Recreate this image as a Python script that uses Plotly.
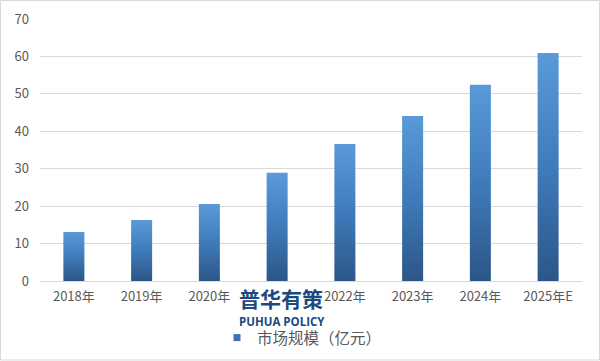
import plotly.graph_objects as go

categories = ["2018年", "2019年", "2020年", "2021年", "2022年", "2023年", "2024年", "2025年E"]
values = [13.1, 16.3, 20.6, 28.9, 36.6, 44.1, 52.4, 60.9]
series_name = "市场规模（亿元）"
y_ticks = [0, 10, 20, 30, 40, 50, 60, 70]

W, H = 600, 361
ML, MR, MT, MB = 40, 18, 19, 80
PW, PH = W - ML - MR, H - MT - MB
half = 0.155
font_family = "Noto Sans CJK SC, Noto Sans, sans-serif"
grad = [[0, "#2c5687"], [0.5, "#3f7bbb"], [1, "#5a9ad8"]]

fig = go.Figure()
for i, v in enumerate(values):
    fig.add_trace(go.Scatter(
        x=[i - half, i + half, i + half, i - half, i - half],
        y=[0, 0, v, v, 0],
        mode="none",
        fill="toself",
        fillgradient=dict(type="vertical", colorscale=grad),
        showlegend=False,
        hoverinfo="text",
        text=f"{categories[i]}: {v}",
        name=categories[i],
    ))

# legend entry
fig.add_trace(go.Scatter(
    x=[None], y=[None], mode="markers", name=series_name,
    marker=dict(symbol="square", size=7, color="#3d73ad"),
    showlegend=True,
))

def px_x(p):
    return (p - ML) / PW

def px_y(p):
    return (MT + PH - p) / PH

fig.add_shape(type="rect", xref="paper", yref="paper",
              x0=px_x(0.5), x1=px_x(599.5), y0=px_y(360), y1=px_y(0.5),
              line=dict(color="#d9d9d9", width=1), fillcolor="rgba(0,0,0,0)", layer="below")

fig.add_annotation(xref="paper", yref="paper", x=px_x(280.5), y=px_y(298),
                   xanchor="center", yanchor="middle",
                   text="<b>普华有策</b>", showarrow=False, bgcolor="white", borderpad=0,
                   font=dict(family=font_family, size=21, color="#1b4a80"))
fig.add_annotation(xref="paper", yref="paper", x=px_x(281.5), y=px_y(321),
                   xanchor="center", yanchor="middle",
                   text="<b>PUHUA POLICY</b>", showarrow=False,
                   font=dict(family="Open Sans, sans-serif", size=11.5, color="#1b4a80"))

fig.update_layout(
    width=W, height=H,
    margin=dict(l=ML, r=MR, t=MT, b=MB, autoexpand=False),
    paper_bgcolor="white", plot_bgcolor="white",
    font=dict(family=font_family, color="#595959", size=13),
    xaxis=dict(range=[-0.5, 7.5], tickmode="array", tickvals=list(range(len(categories))),
               ticktext=categories, showgrid=False, zeroline=False, showline=False,
               ticks="", ticklabelstandoff=6, tickfont=dict(size=13, color="#595959"),
               fixedrange=True, automargin=False),
    yaxis=dict(range=[0, 70], tickmode="array", tickvals=y_ticks, showgrid=True,
               gridcolor="#d9d9d9", gridwidth=1, zeroline=True, zerolinecolor="#d9d9d9",
               zerolinewidth=1, showline=False, ticks="", ticklabelstandoff=10,
               tickfont=dict(size=13, color="#595959"), fixedrange=True, automargin=False),
    legend=dict(orientation="h", x=px_x(217), y=px_y(338), xanchor="left", yanchor="middle",
                font=dict(size=15.5, color="#595959"), itemwidth=30,
                bgcolor="rgba(0,0,0,0)"),
    showlegend=True,
)

fig.write_html("out.html", config={"displayModeBar": False},
               post_script="document.body.style.margin='0';")
